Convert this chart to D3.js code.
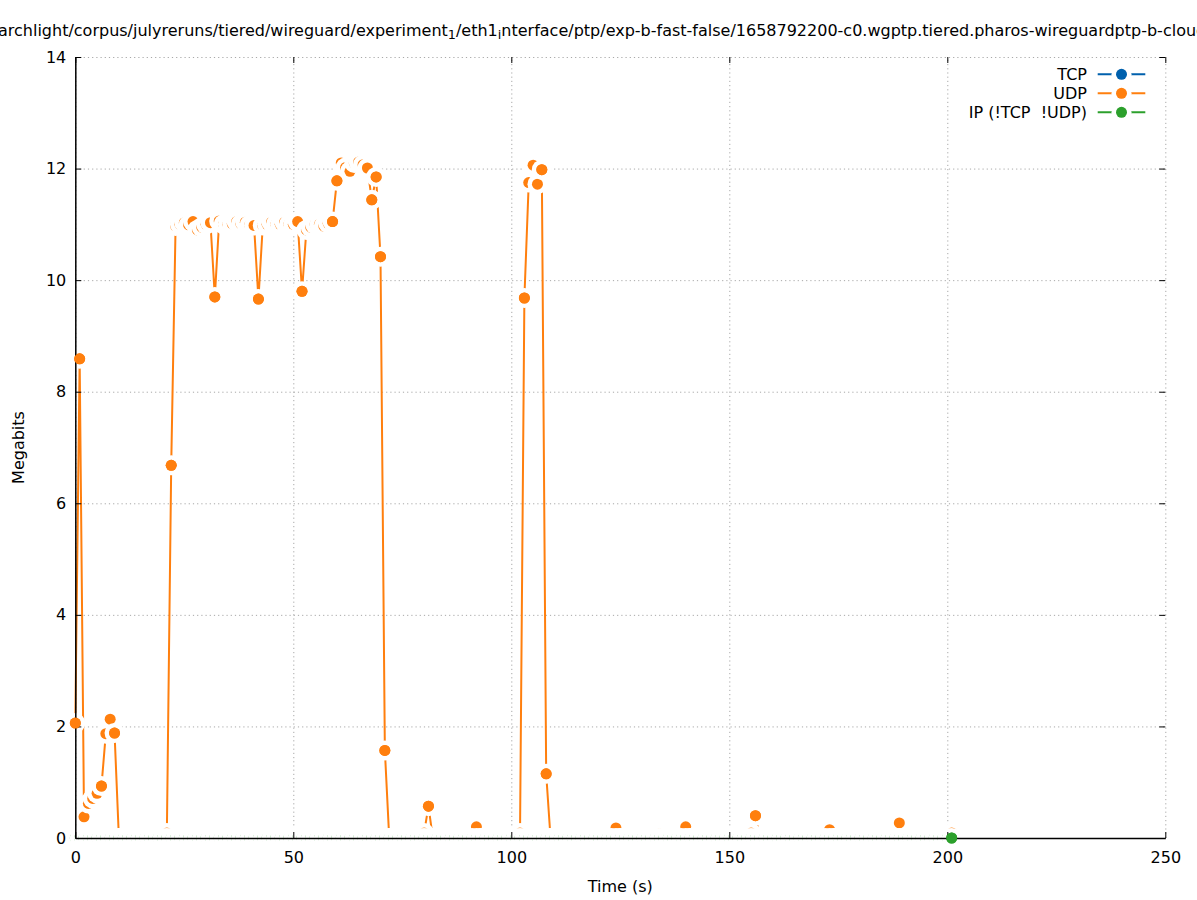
<!DOCTYPE html>
<html>
<head>
<meta charset="utf-8">
<script src="https://cdn.jsdelivr.net/npm/d3@7"></script>
<style>
  html, body { margin: 0; padding: 0; background: #ffffff; }
  svg { display: block; }
  text { font-family: "DejaVu Sans", "Liberation Sans", sans-serif; white-space: pre; }
</style>
</head>
<body>
<svg id="chart" width="1197" height="900"></svg>
<script>
// ---------------- data ----------------
const seriesNames  = ["TCP", "UDP", "IP (!TCP  !UDP)"];
const seriesColors = ["#0060ad", "#ff7f0e", "#2ca02c"];

// sample times (s)
const times = [
  0,1,2,3,4,5,6,7,8,9,10,11,12,13,14,15,16,17,18,19,
  20,21,22,23,24,25,26,27,28,29,30,31,32,33,34,35,36,37,38,39,
  40,41,42,43,44,45,46,47,48,49,50,51,52,53,54,55,56,57,58,59,
  60,61,62,63,64,65,66,67,68,69,70,71,72,73,74,75,76,77,78,79,
  80,81,82,83,84,85,86,87,88,89,90,91,92,93,94,95,96,97,98,99,
  100,101,102,103,104,105,106,107,108,109,110,111,112,113,114,115,116,117,118,119,
  120,121,122,123,124,125,126,127,128,129,130,131,132,133,134,135,136,137,138,139,
  140,141,142,143,144,145,146,147,148,149,150,151,152,153,154,155,156,157,158,159,
  160,161,162,163,164,165,166,167,168,169,170,171,172,173,174,175,176,177,178,179,
  180,181,182,183,184,185,186,187,188,189,190,191,192,193,194,195,196,197,198,199,
  200,201
];

// TCP megabits per sample
const tcpMegabits = [
  0,0,0,0,0,0,0,0,0,0,0,0,0,0,0,0,0,0,0,0,
  0,0,0,0,0,0,0,0,0,0,0,0,0,0,0,0,0,0,0,0,
  0,0,0,0,0,0,0,0,0,0,0,0,0,0,0,0,0,0,0,0,
  0,0,0,0,0,0,0,0,0,0,0,0,0,0,0,0,0,0,0,0,
  0,0,0,0,0,0,0,0,0,0,0,0,0,0,0,0,0,0,0,0,
  0,0,0,0,0,0,0,0,0,0,0,0,0,0,0,0,0,0,0,0,
  0,0,0,0,0,0,0,0,0,0,0,0,0,0,0,0,0,0,0,0,
  0,0,0,0,0,0,0,0,0,0,0,0,0,0,0,0,0,0,0,0,
  0,0,0,0,0,0,0,0,0,0,0,0,0,0,0,0,0,0,0,0,
  0,0,0,0,0,0,0,0,0,0,0,0,0,0,0,0,0,0,0,0,
  0,0
];

// UDP megabits per sample
const udpMegabits = [
  2.06, 8.59, 0.38, 0.62, 0.71, 0.80, 0.93, 1.87, 2.13, 1.88,          // 0-9
  0, 0, 0, 0, 0, 0, 0, 0, 0, 0, 0,                                     // 10-20
  0.09, 6.68, 10.97, 11.00, 11.03, 10.99, 11.05, 10.90, 10.95, 11.00, 11.03, // 21-31
  9.70, 11.06, 11.00, 11.00, 11.01, 11.05, 11.01, 11.04, 10.99, 10.98, 9.66, // 32-42
  10.98, 11.00, 11.04, 11.00, 11.00, 11.04, 11.00, 11.00, 11.05, 9.80,       // 43-52
  10.90, 10.95, 11.00, 11.00, 10.97, 11.02, 11.05, 11.78, 12.10, 12.02, 11.95, // 53-63
  12.10, 12.12, 12.07, 12.01, 11.44, 11.85, 10.42, 1.57,               // 64-71
  0, 0, 0, 0, 0, 0, 0, 0,                                              // 72-79
  0.09, 0.57,                                                          // 80-81
  0, 0, 0, 0, 0, 0, 0, 0, 0, 0,                                        // 82-91
  0.20,                                                                // 92
  0, 0, 0, 0, 0, 0, 0, 0, 0,                                           // 93-101
  0.09, 9.68, 11.75, 12.06, 11.72, 11.98, 1.15,                        // 102-108
  0, 0, 0, 0, 0, 0, 0, 0, 0, 0, 0, 0, 0, 0, 0,                         // 109-123
  0.18,                                                                // 124
  0, 0, 0, 0, 0, 0, 0, 0, 0,                                           // 125-133
  0.07,                                                                // 134
  0, 0, 0, 0, 0,                                                       // 135-139
  0.20,                                                                // 140
  0, 0, 0, 0, 0, 0, 0, 0, 0, 0, 0, 0, 0, 0,                            // 141-154
  0.09, 0.40,                                                          // 155-156
  0, 0, 0, 0, 0, 0, 0, 0, 0, 0, 0, 0, 0, 0, 0, 0,                      // 157-172
  0.15,                                                                // 173
  0, 0, 0, 0, 0, 0, 0, 0, 0, 0, 0, 0, 0, 0, 0,                         // 174-188
  0.27,                                                                // 189
  0, 0, 0, 0, 0, 0, 0, 0, 0, 0, 0,                                     // 190-200
  0.09                                                                 // 201
];

// IP (non TCP, non UDP) megabits per sample
const ipMegabits = [
  0,0,0,0,0,0,0,0,0,0,0,0,0,0,0,0,0,0,0,0,
  0,0,0,0,0,0,0,0,0,0,0,0,0,0,0,0,0,0,0,0,
  0,0,0,0,0,0,0,0,0,0,0,0,0,0,0,0,0,0,0,0,
  0,0,0,0,0,0,0,0,0,0,0,0,0,0,0,0,0,0,0,0,
  0,0,0,0,0,0,0,0,0,0,0,0,0,0,0,0,0,0,0,0,
  0,0,0,0,0,0,0,0,0,0,0,0,0,0,0,0,0,0,0,0,
  0,0,0,0,0,0,0,0,0,0,0,0,0,0,0,0,0,0,0,0,
  0,0,0,0,0,0,0,0,0,0,0,0,0,0,0,0,0,0,0,0,
  0,0,0,0,0,0,0,0,0,0,0,0,0,0,0,0,0,0,0,0,
  0,0,0,0,0,0,0,0,0,0,0,0,0,0,0,0,0,0,0,0,
  0,0
];

const xTicks = [0, 50, 100, 150, 200, 250];
const yTicks = [0, 2, 4, 6, 8, 10, 12, 14];
const xLabel = "Time (s)";
const yLabel = "Megabits";
const titleParts = [
  { t: "archlight/corpus/julyreruns/tiered/wireguard/experiment", sub: false },
  { t: "1", sub: true },
  { t: "/eth1", sub: false },
  { t: "i", sub: true },
  { t: "nterface/ptp/exp-b-fast-false/1658792200-c0.wgptp.tiered.pharos-wireguardptp-b-cloud", sub: false }
];

// ---------------- layout ----------------
const W = 1197, H = 900;
const P = { left: 75.3, right: 1165.3, top: 57, bottom: 838 };
const FONT = 16;
const R_DOT = 5.5, R_BLANK = 10;

const svg = d3.select("#chart");
svg.append("rect").attr("width", W).attr("height", H).attr("fill", "#fff");

const x = d3.scaleLinear().domain([0, 250]).range([P.left, P.right]);
const y = d3.scaleLinear().domain([0, 14]).range([P.bottom, P.top]);

// ---------------- grid ----------------
const grid = svg.append("g").attr("class", "grid");
grid.append("g")
  .attr("transform", `translate(0,${P.bottom})`)
  .call(d3.axisBottom(x).tickValues(xTicks).tickSize(-(P.bottom - P.top)).tickFormat(""))
  .call(g => g.select(".domain").remove());
grid.append("g")
  .attr("transform", `translate(${P.left},0)`)
  .call(d3.axisLeft(y).tickValues(yTicks).tickSize(-(P.right - P.left)).tickFormat(""))
  .call(g => g.select(".domain").remove());
grid.selectAll("line")
  .attr("stroke", "#a8a8a8")
  .attr("stroke-width", 1)
  .attr("stroke-dasharray", "1.2,3");

// ---------------- series ----------------
const series = seriesNames.map((name, i) => ({
  name, color: seriesColors[i],
  values: [tcpMegabits, udpMegabits, ipMegabits][i]
}));

const line = d3.line().x(d => x(d.t)).y(d => y(d.v));
const drawnPts = [];
const plotG = svg.append("g").attr("class", "series");

series.forEach(s => {
  const pts = times.map((t, i) => ({ t, v: s.values[i], color: s.color }));
  plotG.append("path")
    .datum(pts)
    .attr("d", line)
    .attr("fill", "none")
    .attr("stroke", s.color)
    .attr("stroke-width", 2)
    .attr("stroke-linejoin", "round");
  const pg = plotG.append("g").selectAll("g").data(pts).join("g");
  pg.append("circle")
    .attr("cx", d => x(d.t)).attr("cy", d => y(d.v))
    .attr("r", R_BLANK).attr("fill", "#ffffff");
  pg.append("circle")
    .attr("cx", d => x(d.t)).attr("cy", d => y(d.v))
    .attr("r", R_DOT).attr("fill", s.color);
  pts.forEach(p => drawnPts.push({ px: x(p.t), py: y(p.v), color: p.color }));
});

// ---------------- axes ----------------
const axG = svg.append("g").attr("class", "axes");
axG.append("g")
  .attr("transform", `translate(0,${P.bottom})`)
  .call(d3.axisBottom(x).tickValues(xTicks).tickSizeInner(-6).tickSizeOuter(0).tickPadding(14));
axG.append("g")
  .attr("transform", `translate(${P.left},0)`)
  .call(d3.axisLeft(y).tickValues(yTicks).tickSizeInner(-6).tickSizeOuter(0).tickPadding(9));
// mirrored ticks (no labels, no border line)
axG.append("g")
  .attr("transform", `translate(${P.right},0)`)
  .call(d3.axisRight(y).tickValues(yTicks).tickSize(-6).tickFormat(""))
  .call(g => g.select(".domain").remove());
axG.append("g")
  .attr("transform", `translate(0,${P.top})`)
  .call(d3.axisTop(x).tickValues(xTicks).tickSize(-6).tickFormat(""))
  .call(g => g.select(".domain").remove());

axG.selectAll(".domain").attr("stroke", "#000").attr("stroke-width", 1.5);
axG.selectAll(".tick line").attr("stroke", "#000").attr("stroke-width", 1);
axG.selectAll(".tick text")
  .attr("font-size", FONT)
  .attr("font-family", "DejaVu Sans")
  .attr("fill", "#000");

// markers not overlapped by any later blank sit in front of the frame
const frontPts = drawnPts.filter((d, k) => {
  for (let j = k + 1; j < drawnPts.length; j++) {
    const e = drawnPts[j];
    if (Math.hypot(e.px - d.px, e.py - d.py) < R_DOT + R_BLANK) return false;
  }
  return true;
});
svg.append("g").selectAll("circle").data(frontPts).join("circle")
  .attr("cx", d => d.px).attr("cy", d => d.py)
  .attr("r", R_DOT).attr("fill", d => d.color);

// ---------------- labels ----------------
svg.append("text")
  .attr("x", (P.left + P.right) / 2).attr("y", 886)
  .attr("text-anchor", "middle").attr("dominant-baseline", "central")
  .attr("font-size", FONT).text(xLabel);
svg.append("text")
  .attr("transform", `translate(18,${(P.top + P.bottom) / 2}) rotate(-90)`)
  .attr("text-anchor", "middle").attr("dominant-baseline", "central")
  .attr("font-size", FONT).text(yLabel);

const title = svg.append("text")
  .attr("x", -2).attr("y", 35.5)
  .attr("text-anchor", "start")
  .attr("font-size", FONT);
titleParts.forEach((p, i) => {
  const ts = title.append("tspan").text(p.t);
  if (p.sub) ts.attr("font-size", FONT * 0.8).attr("dy", 3.5);
  else if (i > 0) ts.attr("dy", -3.5);
});

// ---------------- legend ----------------
const ly = d3.scalePoint().domain(seriesNames).range([74.3, 112.3]);
const legend = svg.append("g").attr("class", "legend");
const lx0 = 1097.7, lx1 = 1145.3, lxc = (lx0 + lx1) / 2;
series.forEach(s => {
  const yy = ly(s.name);
  legend.append("text")
    .attr("x", 1087).attr("y", yy)
    .attr("text-anchor", "end").attr("dominant-baseline", "central")
    .attr("xml:space", "preserve")
    .attr("font-size", FONT).text(s.name);
  legend.append("line")
    .attr("x1", lx0).attr("x2", lx1).attr("y1", yy).attr("y2", yy)
    .attr("stroke", s.color).attr("stroke-width", 2);
  legend.append("circle").attr("cx", lxc).attr("cy", yy).attr("r", R_BLANK).attr("fill", "#fff");
  legend.append("circle").attr("cx", lxc).attr("cy", yy).attr("r", R_DOT).attr("fill", s.color);
});
</script>
</body>
</html>
